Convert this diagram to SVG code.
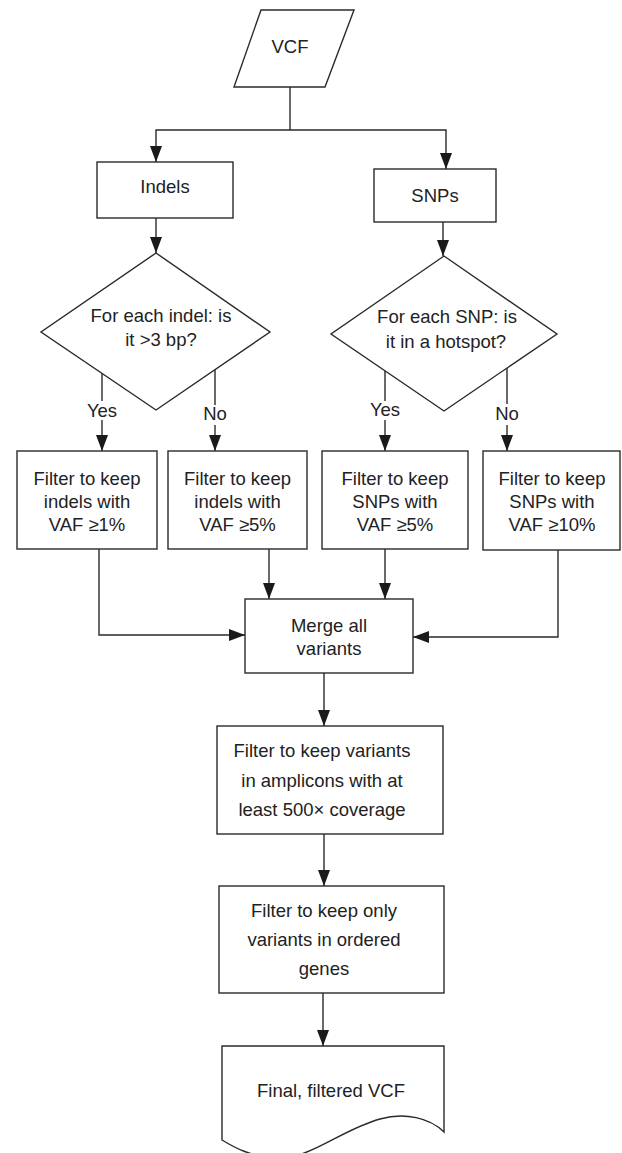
<svg xmlns="http://www.w3.org/2000/svg" width="622" height="1153" viewBox="0 0 622 1153">
<style>
.s{fill:#fff;stroke:#2a2a2a;stroke-width:1.4}
.c{fill:none;stroke:#2a2a2a;stroke-width:1.4}
.a{marker-end:url(#arr)}
text{font-family:"Liberation Sans",Arial,Helvetica,sans-serif;font-size:18.5px;fill:#222;text-anchor:middle}
</style>
<defs>
<marker id="arr" markerUnits="userSpaceOnUse" markerWidth="16" markerHeight="12" refX="16" refY="6" orient="auto">
<path d="M0,0 L16,6 L0,12 z" fill="#1a1a1a"/>
</marker>
</defs>
<rect width="622" height="1153" fill="#fff"/>
<g id="connectors">
<path class="c" d="M290,87 V130"/>
<path class="c a" d="M290,130 H156 V162"/>
<path class="c a" d="M290,130 H446 V169"/>
<path class="c a" d="M156,218 V253"/>
<path class="c a" d="M443,222 V256"/>
<path class="c" d="M102,373 V401"/>
<path class="c a" d="M102,420 V451"/>
<path class="c" d="M215,370 V405"/>
<path class="c a" d="M215,425 V451"/>
<path class="c" d="M385,371 V401"/>
<path class="c a" d="M385,420 V451"/>
<path class="c" d="M507,368 V404"/>
<path class="c a" d="M507,425 V451"/>
<path class="c a" d="M99,549 V635 H245"/>
<path class="c a" d="M269,549 V599"/>
<path class="c a" d="M385,549 V599"/>
<path class="c a" d="M558,550 V637 H413"/>
<path class="c a" d="M324,673 V726"/>
<path class="c a" d="M324,834 V886"/>
<path class="c a" d="M323,993 V1046"/>
<text x="102" y="417">Yes</text>
<text x="215" y="420">No</text>
<text x="385" y="416">Yes</text>
<text x="507" y="420">No</text>
</g>
<g id="vcf">
<polygon class="s" points="261,10 354,10 325,87 234,87"/>
<text x="290" y="53">VCF</text>
</g>
<g id="indels">
<rect class="s" x="97" y="162" width="136" height="56"/>
<text x="165" y="193">Indels</text>
</g>
<g id="snps">
<rect class="s" x="374" y="169" width="122" height="53"/>
<text x="435" y="202">SNPs</text>
</g>
<g id="indel-decision">
<polygon class="s" points="156,253 270,332 156,410 41,332"/>
<text x="161" y="322">For each indel: is</text>
<text x="161" y="346">it &gt;3 bp?</text>
</g>
<g id="snp-decision">
<polygon class="s" points="444,256 557,334 444,411 331,334"/>
<text x="447" y="323">For each SNP: is</text>
<text x="446" y="348">it in a hotspot?</text>
</g>
<g id="indel-1">
<rect class="s" x="17" y="451" width="140" height="98"/>
<text x="87" y="485">Filter to keep</text>
<text x="87" y="508">indels with</text>
<text x="87" y="531">VAF ≥1%</text>
</g>
<g id="indel-5">
<rect class="s" x="168" y="451" width="139" height="98"/>
<text x="237.5" y="485">Filter to keep</text>
<text x="237.5" y="508">indels with</text>
<text x="237.5" y="531">VAF ≥5%</text>
</g>
<g id="snp-5">
<rect class="s" x="322" y="451" width="146" height="98"/>
<text x="395" y="485">Filter to keep</text>
<text x="395" y="508">SNPs with</text>
<text x="395" y="531">VAF ≥5%</text>
</g>
<g id="snp-10">
<rect class="s" x="483" y="451" width="137" height="99"/>
<text x="552" y="485">Filter to keep</text>
<text x="552" y="508">SNPs with</text>
<text x="552" y="531">VAF ≥10%</text>
</g>
<g id="merge">
<rect class="s" x="245" y="599" width="168" height="74"/>
<text x="329" y="632">Merge all</text>
<text x="329" y="655">variants</text>
</g>
<g id="coverage">
<rect class="s" x="217" y="726" width="226" height="108"/>
<text x="322" y="757">Filter to keep variants</text>
<text x="322" y="787">in amplicons with at</text>
<text x="322" y="816">least 500× coverage</text>
</g>
<g id="genes">
<rect class="s" x="219" y="886" width="225" height="107"/>
<text x="324" y="917">Filter to keep only</text>
<text x="324" y="946">variants in ordered</text>
<text x="324" y="975">genes</text>
</g>
<g id="final">
<path class="s" d="M222,1046 H444 V1132 C430,1118 405,1112 380,1119 C340,1130 310,1160 275,1158 C250,1156 235,1148 222,1140 Z"/>
<text x="331" y="1097">Final, filtered VCF</text>
</g>
</svg>
